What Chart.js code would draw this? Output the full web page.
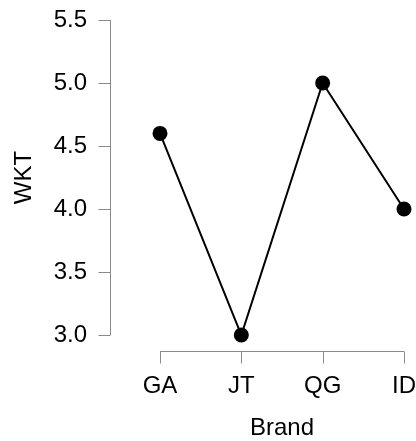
<!DOCTYPE html>
<html>
<head>
<meta charset="utf-8">
<script src="https://cdn.jsdelivr.net/npm/chart.js@4"></script>
<style>
html,body{margin:0;padding:0;background:#fff;}
#wrap{width:416px;height:441px;}
</style>
</head>
<body>
<div id="wrap"><canvas id="c" width="416" height="441"></canvas></div>
<script>
const categories = ["GA", "JT", "QG", "ID"];
const wktValues = [4.6, 3.0, 5.0, 4.0];
const yTicks = [3.0, 3.5, 4.0, 4.5, 5.0, 5.5];

const FONT = "'Liberation Sans', Arial, sans-serif";
const AXIS_COLOR = "#8a8a8a";

const rAxes = {
  id: 'rAxes',
  afterDraw(chart) {
    const ctx = chart.ctx;
    const x = chart.scales.x, y = chart.scales.y;
    const ca = chart.chartArea;
    ctx.save();
    ctx.strokeStyle = AXIS_COLOR;
    ctx.lineWidth = 1;
    // y axis
    const ax = Math.round(ca.left - 50) + 0.5;
    const yTop = y.getPixelForValue(yTicks[yTicks.length - 1]);
    const yBot = y.getPixelForValue(yTicks[0]);
    ctx.beginPath();
    ctx.moveTo(ax, yTop);
    ctx.lineTo(ax, yBot);
    yTicks.forEach(v => {
      const py = Math.round(y.getPixelForValue(v)) + 0.5;
      ctx.moveTo(ax, py);
      ctx.lineTo(ax - 12, py);
    });
    ctx.stroke();
    // x axis
    const ay = Math.round(ca.bottom + 16) + 0.5;
    const xL = x.getPixelForValue(0);
    const xR = x.getPixelForValue(categories.length - 1);
    ctx.beginPath();
    ctx.moveTo(xL, ay);
    ctx.lineTo(xR, ay);
    categories.forEach((c, i) => {
      const px = Math.round(x.getPixelForValue(i)) + 0.5;
      ctx.moveTo(px, ay);
      ctx.lineTo(px, ay + 12);
    });
    ctx.stroke();
    ctx.restore();
  }
};

function zeroPad(s) { s.paddingTop = 0; s.paddingBottom = 0; s.paddingLeft = 0; s.paddingRight = 0; }

new Chart(document.getElementById('c'), {
  type: 'line',
  data: {
    labels: categories,
    datasets: [{
      data: wktValues,
      borderColor: '#000',
      backgroundColor: '#000',
      borderWidth: 2,
      pointRadius: 7.5,
      pointHoverRadius: 7.5,
      pointBackgroundColor: '#000',
      pointBorderWidth: 0,
      tension: 0,
      clip: false
    }]
  },
  options: {
    responsive: false,
    animation: false,
    events: [],
    layout: { padding: { left: 0, right: 12, top: 20, bottom: 0 } },
    plugins: { legend: { display: false }, tooltip: { enabled: false } },
    scales: {
      x: {
        type: 'category',
        offset: false,
        grid: { display: false, drawTicks: false },
        border: { display: false },
        ticks: { color: '#000', font: { family: FONT, size: 24 }, padding: 37, maxRotation: 0, autoSkip: false },
        title: { display: true, text: 'Brand', color: '#000', font: { family: FONT, size: 24 }, padding: { top: 0, bottom: -2 } },
        afterFit(s) { s.height = 106; zeroPad(s); }
      },
      y: {
        min: 3.0,
        max: 5.5,
        grid: { display: false, drawTicks: false },
        border: { display: false },
        afterBuildTicks(s) { s.ticks = yTicks.map(v => ({ value: v })); },
        ticks: { color: '#000', font: { family: FONT, size: 24 }, padding: 73, callback: v => Number(v).toFixed(1) },
        title: { display: true, text: 'WKT', color: '#000', font: { family: FONT, size: 24 }, padding: { top: 10, bottom: 0 } },
        afterFit(s) { s.width = 160; zeroPad(s); }
      }
    }
  },
  plugins: [rAxes]
});
</script>
</body>
</html>
